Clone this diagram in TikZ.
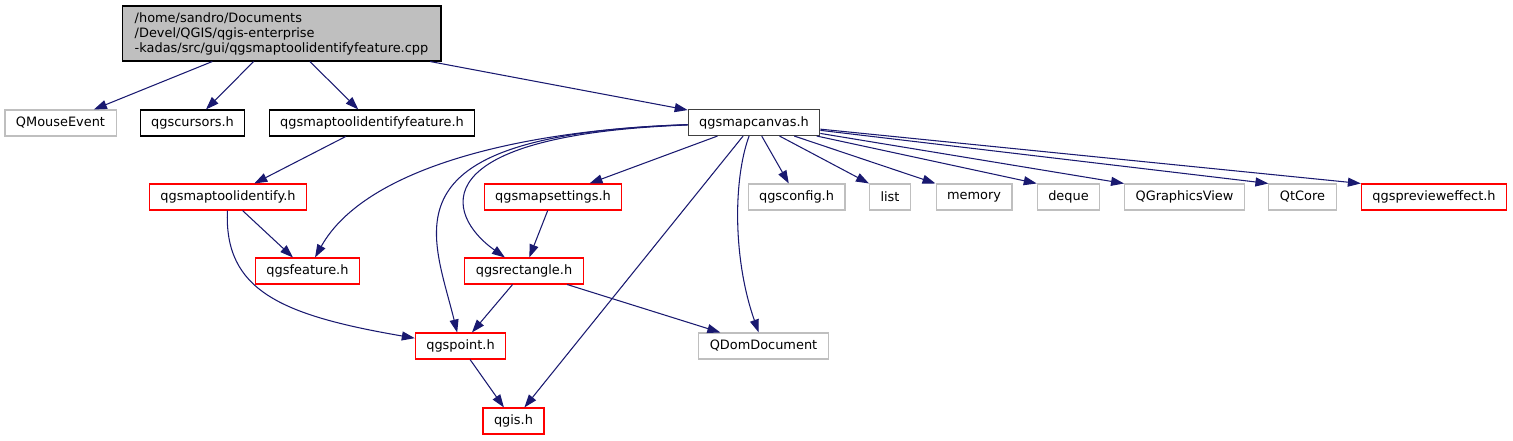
\documentclass[tikz,border=0pt]{standalone}
\usepackage{fontspec}
\setmainfont{DejaVu Sans}
\usepackage{tikz}
\usetikzlibrary{arrows.meta, positioning}
\usepackage{xcolor}
\definecolor{edgeblue}{HTML}{191970}
\definecolor{boxred}{HTML}{FF0000}
\definecolor{boxgray}{HTML}{BFBFBF}
\definecolor{boxdark}{HTML}{404040}
\tikzstyle{header} = [rectangle, minimum height=0.52cm, inner xsep=0.22cm, inner ysep=0pt, text centered, draw=black, line width=0.6pt, font=\fontsize{7.35}{8.5}\selectfont]
\tikzstyle{sysheader} = [header, draw=boxgray]
\tikzstyle{redheader} = [header, draw=boxred]
\tikzstyle{arrow} = [draw=edgeblue, line width=0.6pt, -{Triangle[length=0.26cm, width=0.18cm]}]

\begin{document}
\begin{tikzpicture}[x=0.02cm, y=-0.02cm]
        \useasboundingbox (0,0) rectangle (1513,440);
        % top file
        \node (cpp) [header, fill=boxgray, align=left, minimum width=6.38cm, minimum height=1.1cm] at (281.5,33.5) {/home/sandro/Documents\\/Devel/QGIS/qgis-enterprise\\-kadas/src/gui/qgsmaptoolidentifyfeature.cpp};
        % first level
        \node (mouse) [sysheader] at (60.5,123) {QMouseEvent};
        \node (cursors) [header] at (192.5,123) {qgscursors.h};
        \node (idfeat) [header] at (372,123) {qgsmaptoolidentifyfeature.h};
        \node (canvas) [header, draw=boxdark] at (754,122.5) {qgsmapcanvas.h};
        % second level
        \node (ident) [redheader] at (228,197) {qgsmaptoolidentify.h};
        \node (settings) [redheader] at (553,197) {qgsmapsettings.h};
        \node (config) [sysheader] at (796.5,197) {qgsconfig.h};
        \node (list) [sysheader] at (890,197) {list};
        \node (memory) [sysheader] at (974,197) {memory};
        \node (deque) [sysheader] at (1068.5,197) {deque};
        \node (gview) [sysheader] at (1184.5,197) {QGraphicsView};
        \node (qtcore) [sysheader] at (1302.5,197) {QtCore};
        \node (preview) [redheader] at (1434,197) {qgsprevieweffect.h};
        % lower levels
        \node (feature) [redheader] at (307.5,271) {qgsfeature.h};
        \node (rect) [redheader] at (524,271) {qgsrectangle.h};
        \node (point) [redheader] at (460.5,346) {qgspoint.h};
        \node (dom) [sysheader] at (763.5,346) {QDomDocument};
        \node (qgis) [redheader] at (513.5,421) {qgis.h};

        \draw [arrow] (cpp) -- (mouse);
        \draw [arrow] (cpp) -- (cursors);
        \draw [arrow] (cpp) -- (idfeat);
        \draw [arrow] (cpp) -- (canvas);
        \draw [arrow] (idfeat) -- (ident);
        \draw [arrow] (ident) -- (feature);
        \draw [arrow] (ident) .. controls (224,290) and (280,315) .. (point);
        \draw [arrow] (canvas) .. controls (520,130) and (365,168) .. (feature);
        \draw [arrow] (canvas) .. controls (380,135) and (432,230) .. (point);
        \draw [arrow] (canvas) .. controls (420,135) and (445,215) .. (rect);
        \draw [arrow] (canvas) -- (settings);
        \draw [arrow] (canvas) -- (qgis);
        \draw [arrow] (canvas) .. controls (733,180) and (733,260) .. (dom);
        \draw [arrow] (canvas) -- (config);
        \draw [arrow] (canvas) -- (list.north west);
        \draw [arrow] (canvas) -- (memory.north west);
        \draw [arrow] (canvas) -- (deque.north west);
        \draw [arrow] (canvas) -- (gview.north west);
        \draw [arrow] (canvas) -- (qtcore.north west);
        \draw [arrow] (canvas) -- (preview.north west);
        \draw [arrow] (settings) -- (rect);
        \draw [arrow] (rect) -- (point);
        \draw [arrow] (rect) -- (dom);
        \draw [arrow] (point) -- (qgis);
    \end{tikzpicture}
\end{document}
